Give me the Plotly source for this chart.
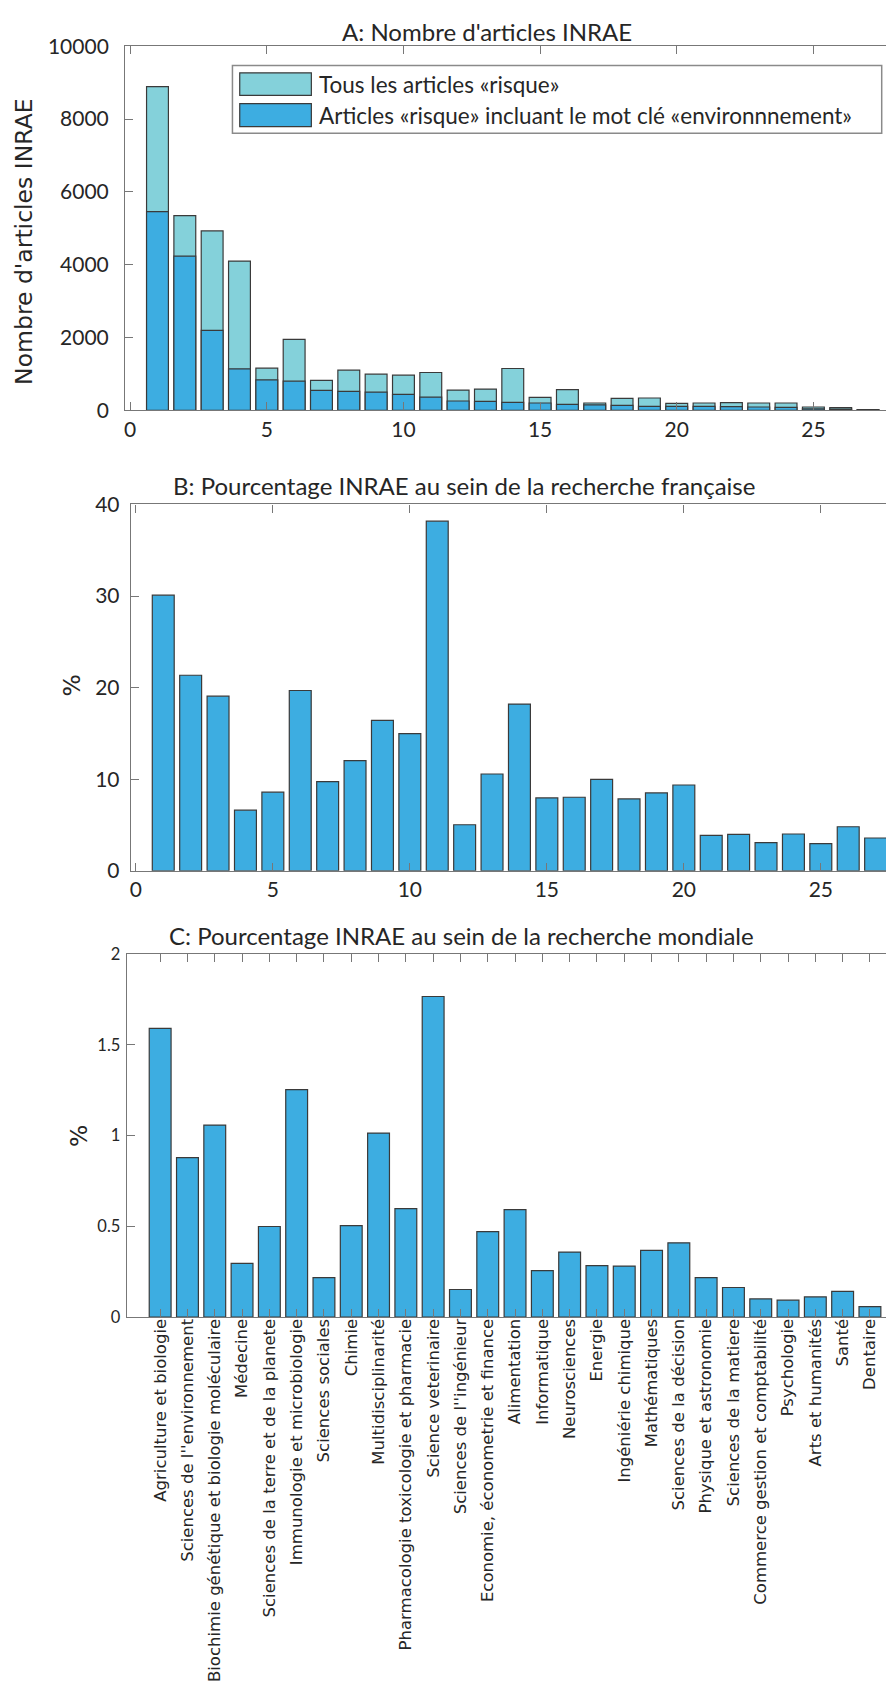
import plotly.graph_objects as go

# ---------------- data ----------------
positions = list(range(1, 28))

categories = [
    "Agriculture et biologie",
    "Sciences de l''environnement",
    "Biochimie génétique et biologie moléculaire",
    "Médecine",
    "Sciences de la terre et de la planete",
    "Immunologie et microbiologie",
    "Sciences sociales",
    "Chimie",
    "Multidisciplinarité",
    "Pharmacologie toxicologie et pharmacie",
    "Science veterinaire",
    "Sciences de l''ingénieur",
    "Economie, économetrie et finance",
    "Alimentation",
    "Informatique",
    "Neurosciences",
    "Energie",
    "Ingéniérie chimique",
    "Mathématiques",
    "Sciences de la décision",
    "Physique et astronomie",
    "Sciences de la matiere",
    "Commerce gestion et comptabilité",
    "Psychologie",
    "Arts et humanités",
    "Santé",
    "Dentaire",
]

articles_risque = [8890, 5346, 4927, 4098, 1157, 1949, 820, 1102, 993, 965,
                   1038, 556, 583, 1148, 355, 565, 200, 328, 337, 191,
                   200, 209, 200, 200, 91, 73, 18]
articles_env = [5455, 4235, 2195, 1138, 838, 801, 546, 519, 500, 437,
                364, 255, 246, 219, 200, 164, 150, 137, 109, 109,
                109, 100, 91, 82, 40, 30, 8]

pct_france = [30.1, 21.35, 19.07, 6.62, 8.58, 19.69, 9.74, 12.02, 16.43, 14.98,
              38.18, 5.03, 10.57, 18.2, 7.96, 8.03, 9.99, 7.85, 8.5, 9.37,
              3.87, 3.98, 3.08, 4.02, 2.97, 4.81, 3.58]

pct_monde = [1.591, 0.879, 1.058, 0.296, 0.499, 1.253, 0.217, 0.504, 1.014, 0.597,
             1.766, 0.152, 0.471, 0.592, 0.256, 0.358, 0.283, 0.281, 0.367, 0.409,
             0.217, 0.163, 0.100, 0.093, 0.111, 0.142, 0.058]

ticks_A = [0, 5, 10, 15, 20, 25]
ticks_A_text = ["0", "5", "10", "15", "20", "25"]
ticks_A_y = [0, 2000, 4000, 6000, 8000, 10000]
ticks_A_y_text = ["0", "2000", "4000", "6000", "8000", "10000"]
ticks_B_y = [0, 10, 20, 30, 40]
ticks_B_y_text = ["0", "10", "20", "30", "40"]
ticks_C_y = [0, 0.5, 1, 1.5, 2]
ticks_C_y_text = ["0", "0.5", "1", "1.5", "2"]

legend_labels = ["Tous les articles «risque»",
                 "Articles «risque» incluant le mot clé «environnnement»"]

# ---------------- style ----------------
PAGE_W, PAGE_H = 894, 1690
OFF = 8                      # default body margin of the page
W, H = PAGE_W - 2 * OFF, PAGE_H - 2 * OFF
LIGHT = "#84D1DA"
BLUE = "#3DADE1"
EDGE = "#3a3a3a"
AXC = "#777777"
TXT = "#262626"
MYR = "Lato"
VER = "DejaVu Sans"


def px(x):
    return (x - OFF) / W


def tr(y):
    # vertical calibration of target positions
    return (y - 11.0) / 0.988


def py(y):
    return 1 - (tr(y) - OFF) / H


RIGHT = PAGE_W - OFF  # page x of the figure's right edge

fig = go.Figure()

bar_line = dict(color=EDGE, width=1.2)
fig.add_trace(go.Bar(x=positions, y=articles_risque, width=0.8, marker=dict(color=LIGHT, line=bar_line),
                     xaxis="x", yaxis="y", showlegend=False, name=legend_labels[0]))
fig.add_trace(go.Bar(x=positions, y=articles_env, width=0.8, marker=dict(color=BLUE, line=bar_line),
                     xaxis="x", yaxis="y", showlegend=False, name=legend_labels[1]))
fig.add_trace(go.Bar(x=positions, y=pct_france, width=0.8, marker=dict(color=BLUE, line=bar_line),
                     xaxis="x2", yaxis="y2", showlegend=False))
fig.add_trace(go.Bar(x=positions, y=pct_monde, width=0.8, marker=dict(color=BLUE, line=bar_line),
                     xaxis="x3", yaxis="y3", showlegend=False))

x_ax = dict(showline=True, linecolor=AXC, linewidth=1.3, mirror="ticks", ticks="inside",
            ticklen=8, tickcolor=AXC, tickwidth=1.3, showgrid=False, zeroline=False)
y_ax = dict(showline=True, linecolor=AXC, linewidth=1.3, mirror=False, ticks="inside",
            ticklen=8, tickcolor=AXC, tickwidth=1.3, showgrid=False, zeroline=False)

# x positions (page px) of value 0 and px per unit, per panel
x0A, uA = 129.3, 27.36
x0B, uB = 135.0, 27.43
x0C, uC = 132.0, 27.33

fig.update_layout(
    width=W, height=H, margin=dict(l=0, r=0, t=0, b=0),
    paper_bgcolor="white", plot_bgcolor="white", barmode="overlay",
    showlegend=False,
    xaxis=dict(domain=[px(124.3), 1], range=[(124.3 - x0A) / uA, (RIGHT - x0A) / uA], anchor="y",
               tickvals=ticks_A, ticktext=ticks_A_text,
               tickfont=dict(family=MYR, size=21, color=TXT),
               ticklabelstandoff=0, **x_ax),
    yaxis=dict(domain=[py(409.3), py(43.3)], range=[0, 10000], anchor="x",
               tickvals=ticks_A_y, ticktext=ticks_A_y_text,
               tickfont=dict(family=MYR, size=21, color=TXT),
               ticklabelstandoff=11, **y_ax),
    xaxis2=dict(domain=[px(130), 1], range=[(130 - x0B) / uB, (RIGHT - x0B) / uB], anchor="y2",
                tickvals=ticks_A, ticktext=ticks_A_text,
                tickfont=dict(family=MYR, size=21, color=TXT),
                ticklabelstandoff=0, **x_ax),
    yaxis2=dict(domain=[py(872.3), py(504)], range=[0, 40], anchor="x2",
                tickvals=ticks_B_y, ticktext=ticks_B_y_text,
                tickfont=dict(family=MYR, size=21, color=TXT),
                ticklabelstandoff=6, **y_ax),
    xaxis3=dict(domain=[px(126), 1], range=[(126 - x0C) / uC, (RIGHT - x0C) / uC], anchor="y3",
                tickvals=positions, ticktext=categories, tickangle=-90,
                tickfont=dict(family=VER, size=16.5, color=TXT),
                ticklabelstandoff=-6, **x_ax),
    yaxis3=dict(domain=[py(1321), py(956)], range=[0, 2], anchor="x3",
                tickvals=ticks_C_y, ticktext=ticks_C_y_text,
                tickfont=dict(family=MYR, size=16.5, color=TXT),
                ticklabelstandoff=2, **y_ax),
)

annotations = []
# titles
for txt, x, y in [("A: Nombre d'articles INRAE", 487, 28),
                  ("B: Pourcentage INRAE au sein de la recherche française", 464, 485),
                  ("C: Pourcentage INRAE au sein de la recherche mondiale", 461, 937)]:
    annotations.append(dict(text=txt, x=px(x), y=py(y), xref="paper", yref="paper",
                            xanchor="center", yanchor="middle", showarrow=False,
                            font=dict(family=MYR, size=24, color=TXT)))
# y labels
for txt, x, y in [("Nombre d'articles INRAE", 23, 240), ("%", 71, 686), ("%", 78, 1139)]:
    annotations.append(dict(text=txt, x=px(x), y=py(y), xref="paper", yref="paper",
                            xanchor="center", yanchor="middle", showarrow=False, textangle=-90,
                            font=dict(family=VER, size=23.5, color=TXT)))

# manual legend (panel A)
shapes = [dict(type="rect", xref="paper", yref="paper", x0=px(231.7), x1=px(881.7),
               y0=py(130.7), y1=py(62.7), line=dict(color="#8a8a8a", width=1.5),
               fillcolor="white", layer="above")]
for i, (col, y0, y1) in enumerate([(LIGHT, 70, 92.7), (BLUE, 101, 124)]):
    shapes.append(dict(type="rect", xref="paper", yref="paper", x0=px(239), x1=px(310.7),
                       y0=py(y1), y1=py(y0), line=dict(color=EDGE, width=1.2),
                       fillcolor=col, layer="above"))
    annotations.append(dict(text=legend_labels[i], x=px(316), y=py((y0 + y1) / 2),
                            xref="paper", yref="paper", xanchor="left", yanchor="middle",
                            showarrow=False, font=dict(family=MYR, size=22.5, color=TXT)))

fig.update_layout(annotations=annotations, shapes=shapes)

fig.write_html("out.html", config={"displayModeBar": False})
